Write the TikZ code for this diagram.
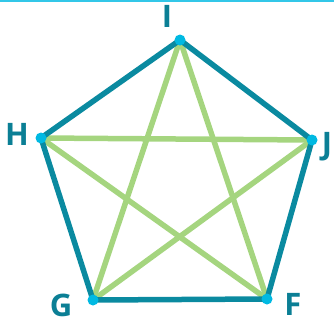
\documentclass[tikz,border=0pt]{standalone}
\usepackage{fontspec}
\setmainfont{Open Sans}
\usetikzlibrary{positioning,calc}
\definecolor{edgeteal}{HTML}{0A8AA0}
\definecolor{stargreen}{HTML}{A5D57F}
\definecolor{dotcyan}{HTML}{00B9E2}
\definecolor{labelteal}{HTML}{0B7F95}

\begin{document}
\begin{tikzpicture}[
    x=1pt, y=-1pt,
    vtx/.style={circle, fill=dotcyan, minimum size=11pt, inner sep=0pt},
    lbl/.style={font=\fontsize{31}{32}\selectfont\bfseries, text=labelteal, inner sep=0pt},
    side/.style={draw=edgeteal, line width=5.5pt},
    chord/.style={draw=stargreen, line width=5.5pt},
]
\useasboundingbox (0,0) rectangle (334,322);

% === top rule ===
\draw[dotcyan!80!white, line width=2pt] (0,1) -- (334,1);

% === vertices ===
\coordinate (I) at (180,40);
\coordinate (H) at (41,138);
\coordinate (J) at (312,140);
\coordinate (G) at (93,300);
\coordinate (F) at (267,299);

% === star (green) ===
\draw[chord] (I) -- (G);
\draw[chord] (I) -- (F);
\draw[chord] (H) -- (J);
\draw[chord] (H) -- (F);
\draw[chord] (J) -- (G);

% === pentagon (teal) ===
\draw[side, line join=round] (I) -- (J) -- (F) -- (G) -- (H) -- cycle;

% dots
\foreach \v in {I,H,J,G,F} \node[vtx] (d\v) at (\v) {};

% labels
\node[lbl] (lI) at (167,16) {I};
\node[lbl] (lH) at (17,134) {H};
\node[lbl] (lJ) at (327,147) {J};
\node[lbl] (lG) at (61,305) {G};
\node[lbl] (lF) at (293,304) {F};

\end{tikzpicture}
\end{document}
